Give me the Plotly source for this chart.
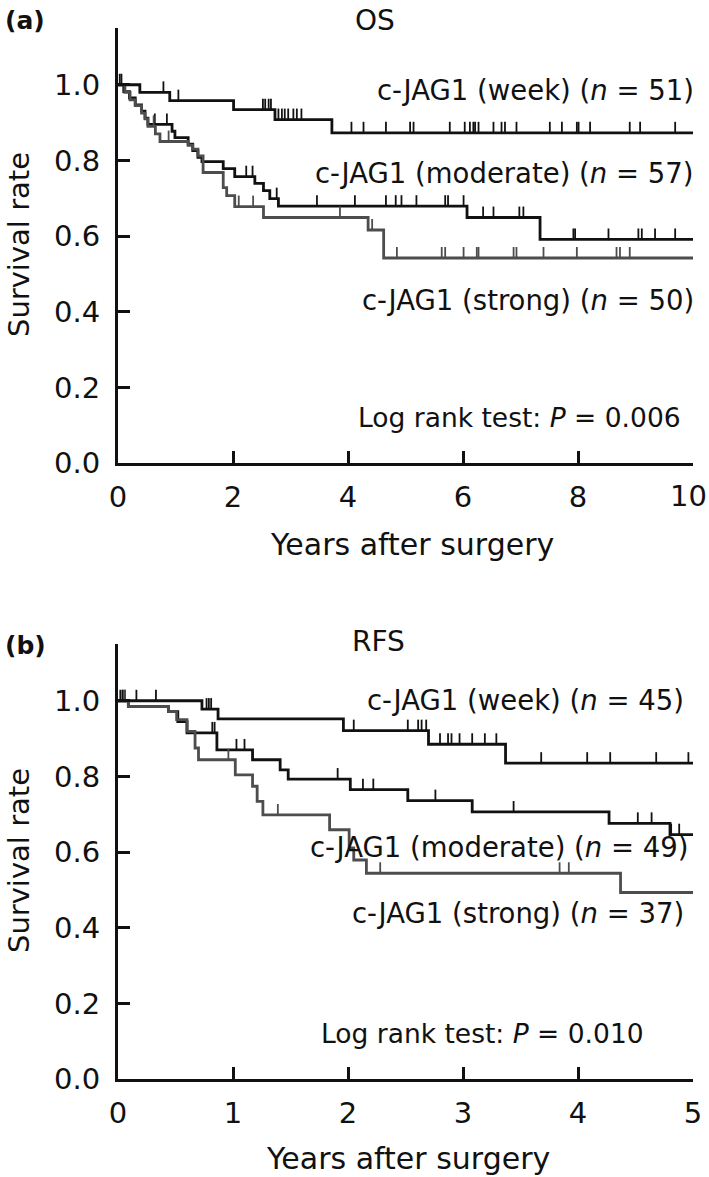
import numpy as np
import plotly.graph_objects as go

# ---- OS (panel a) ----
os_week_t = [0, 0.38, 0.90, 2.01, 2.73, 3.72]
os_week_s = [1.0, 0.980, 0.958, 0.934, 0.908, 0.873]
os_week_cens = [0.03, 0.06, 0.79, 1.05, 2.52, 2.56, 2.62, 2.66, 2.79, 2.85, 2.90, 2.96, 3.05, 3.11,
                3.19, 4.06, 4.27, 4.66, 5.08, 5.14, 5.77, 6.03, 6.12, 6.18, 6.21, 6.27, 6.53, 6.67,
                6.73, 6.93, 7.51, 7.72, 7.98, 8.01, 8.21, 8.90, 9.08, 9.69]

os_mod_t = [0, 0.10, 0.20, 0.30, 0.41, 0.47, 0.52, 0.94, 0.99, 1.22, 1.30, 1.39, 1.46, 1.83, 2.03,
            2.38, 2.53, 2.64, 2.79, 6.07, 7.34]
os_mod_s = [1.0, 0.982, 0.965, 0.947, 0.930, 0.912, 0.895, 0.877, 0.860, 0.843, 0.826, 0.808, 0.797,
            0.778, 0.757, 0.739, 0.720, 0.699, 0.679, 0.649, 0.591]
os_mod_cens = [0.64, 0.85, 2.23, 2.34, 2.76, 3.46, 4.12, 4.66, 4.83, 4.93, 5.19, 5.69, 5.74, 6.01,
               6.35, 6.53, 6.98, 7.05, 7.92, 7.95, 8.53, 9.05, 9.11, 9.34, 9.69]

os_str_t = [0, 0.12, 0.21, 0.30, 0.41, 0.47, 0.52, 0.65, 0.73, 1.22, 1.30, 1.39, 1.48, 1.83, 1.89,
            2.03, 2.53, 4.35, 4.62]
os_str_s = [1.0, 0.980, 0.960, 0.945, 0.925, 0.910, 0.890, 0.870, 0.850, 0.840, 0.830, 0.812, 0.768,
            0.728, 0.707, 0.678, 0.649, 0.616, 0.542]
os_str_cens = [0.62, 0.88, 2.10, 2.35, 3.86, 4.42, 4.85, 5.63, 5.69, 6.01, 6.24, 6.27, 6.88, 6.93,
               7.40, 7.98, 8.67, 8.73, 8.90]

# ---- RFS (panel b) ----
rfs_week_t = [0, 0.73, 0.87, 1.96, 2.70, 3.37]
rfs_week_s = [1.0, 0.978, 0.952, 0.921, 0.885, 0.835]
rfs_week_cens = [0.02, 0.04, 0.06, 0.16, 0.33, 0.77, 0.79, 0.81, 2.05, 2.52, 2.61, 2.64, 2.68, 2.80,
                 2.87, 2.90, 2.97, 3.08, 3.19, 3.29, 3.68, 4.08, 4.28, 4.68, 4.96]

rfs_mod_t = [0, 0.09, 0.44, 0.52, 0.60, 0.86, 1.17, 1.41, 1.48, 2.02, 2.52, 3.08, 4.27, 4.80]
rfs_mod_s = [1.0, 0.985, 0.971, 0.945, 0.915, 0.870, 0.844, 0.817, 0.793, 0.765, 0.736, 0.706,
             0.676, 0.646]
rfs_mod_cens = [0.04, 0.82, 0.84, 1.03, 1.10, 1.91, 2.13, 2.22, 2.76, 3.44, 4.52, 4.64, 4.81, 4.88]

rfs_str_t = [0, 0.09, 0.44, 0.51, 0.60, 0.67, 0.70, 1.02, 1.17, 1.21, 1.26, 1.84, 2.01, 2.05, 2.16, 4.37]
rfs_str_s = [1.0, 0.985, 0.971, 0.950, 0.919, 0.875, 0.844, 0.804, 0.774, 0.734, 0.698, 0.659,
             0.611, 0.579, 0.544, 0.493]
rfs_str_cens = [0.06, 0.96, 1.39, 2.28, 3.84, 3.92]

os_xticks = [0, 2, 4, 6, 8, 10]
rfs_xticks = [0, 1, 2, 3, 4, 5]
y_ticks = [0, 0.2, 0.4, 0.6, 0.8, 1.0]

os_labels = ["c-JAG1 (week) (<i>n</i> = 51)", "c-JAG1 (moderate) (<i>n</i> = 57)",
             "c-JAG1 (strong) (<i>n</i> = 50)"]
rfs_labels = ["c-JAG1 (week) (<i>n</i> = 45)", "c-JAG1 (moderate) (<i>n</i> = 49)",
              "c-JAG1 (strong) (<i>n</i> = 37)"]
os_p = "0.006"
rfs_p = "0.010"

FONT = "DejaVu Sans"
BLACK = "#111111"
GREY = "#4d4d4d"
W, H = 709, 1177
L, R = 118, 16


def px_x(px):
    return (px - L) / (W - L - R)


def px_y(py):
    return 1 - py / H


fig = go.Figure()


def add_curve(t, s, cens, tend, color, xa, ya):
    fig.add_trace(go.Scatter(x=list(t) + [tend], y=list(s) + [s[-1]], mode="lines",
                             line=dict(color=color, width=2.8, shape="hv"),
                             xaxis=xa, yaxis=ya, showlegend=False, hoverinfo="skip"))
    idx = np.searchsorted(np.array(t), np.array(cens), side="right") - 1
    cy = np.array(s)[idx]
    fig.add_trace(go.Scatter(x=cens, y=cy, mode="markers",
                             marker=dict(size=1, color="rgba(0,0,0,0)"),
                             error_y=dict(type="constant", symmetric=False, value=0.029,
                                          valueminus=0, width=0, thickness=1.8, color=color),
                             xaxis=xa, yaxis=ya, showlegend=False, hoverinfo="skip"))


add_curve(os_week_t, os_week_s, os_week_cens, os_xticks[-1], BLACK, "x", "y")
add_curve(os_mod_t, os_mod_s, os_mod_cens, os_xticks[-1], BLACK, "x", "y")
add_curve(os_str_t, os_str_s, os_str_cens, os_xticks[-1], GREY, "x", "y")
add_curve(rfs_week_t, rfs_week_s, rfs_week_cens, rfs_xticks[-1], BLACK, "x2", "y2")
add_curve(rfs_mod_t, rfs_mod_s, rfs_mod_cens, rfs_xticks[-1], BLACK, "x2", "y2")
add_curve(rfs_str_t, rfs_str_s, rfs_str_cens, rfs_xticks[-1], GREY, "x2", "y2")

axis_common = dict(showline=True, linewidth=3, linecolor=BLACK, ticks="inside", ticklen=12,
                   tickwidth=2.5, tickcolor=BLACK, showgrid=False, zeroline=False,
                   tickfont=dict(family=FONT, size=29, color=BLACK), automargin=False,
                   fixedrange=True, ticklabeloverflow="allow")

# last OS tick label sits at the page edge; it is written as a right-aligned note below
os_xtext = [str(v) for v in os_xticks[:-1]] + [""]

fig.update_layout(
    width=W, height=H,
    margin=dict(l=L, r=R, t=0, b=0),
    paper_bgcolor="white", plot_bgcolor="white",
    font=dict(family=FONT, color=BLACK),
    xaxis=dict(axis_common, range=[0, os_xticks[-1]], tickvals=os_xticks, ticktext=os_xtext,
               domain=[0, 1], anchor="y", ticklabelstandoff=6),
    yaxis=dict(axis_common, range=[0, 1.15], tickvals=y_ticks,
               tickformat=".1f", domain=[px_y(463), px_y(28)], anchor="x",
               ticklabelstandoff=9),
    xaxis2=dict(axis_common, range=[0, rfs_xticks[-1]], tickvals=rfs_xticks, domain=[0, 1],
                anchor="y2", ticklabelstandoff=6),
    yaxis2=dict(axis_common, range=[0, 1.15], tickvals=y_ticks,
                tickformat=".1f", domain=[px_y(1079), px_y(644)], anchor="x2",
                ticklabelstandoff=9),
)

ann = []


def text(x, y, s, size=29, bold=False, xanchor="center", angle=0):
    ann.append(dict(x=px_x(x), y=px_y(y), xref="paper", yref="paper", text=s,
                    showarrow=False, xanchor=xanchor, yanchor="middle", textangle=angle,
                    font=dict(family=FONT, size=size, color=BLACK,
                              weight="bold" if bold else "normal")))


# panel labels and titles
text(3, 21, "(a)", size=25, bold=True, xanchor="left")
text(375, 21, "OS", size=28)
text(3, 645, "(b)", size=25, bold=True, xanchor="left")
text(378, 641, "RFS", size=28)

# edge tick label of the OS x axis
text(709, 496, str(os_xticks[-1]), size=29, xanchor="right")

# axis titles
text(0, 245, "Survival rate", size=29, xanchor="left", angle=-90)
text(0, 861, "Survival rate", size=29, xanchor="left", angle=-90)
text(412, 544, "Years after surgery", size=30)
text(408, 1158, "Years after surgery", size=30)

# curve labels
for lab, yv in zip(os_labels, [90, 173, 300]):
    text(696, yv, lab, size=27.5, xanchor="right")
for lab, yv, xr in zip(rfs_labels, [700, 847, 913], [686, 691, 686]):
    text(xr, yv, lab, size=27.5, xanchor="right")

text(519, 417, f"Log rank test: <i>P</i> = {os_p}", size=26.5)
text(482, 1033, f"Log rank test: <i>P</i> = {rfs_p}", size=26.5)

fig.update_layout(annotations=ann)
# the page body has a default 8px margin that would shift and clip the figure
fig.write_html("out.html", config={"displayModeBar": False},
               post_script="document.body.style.margin='0';")
